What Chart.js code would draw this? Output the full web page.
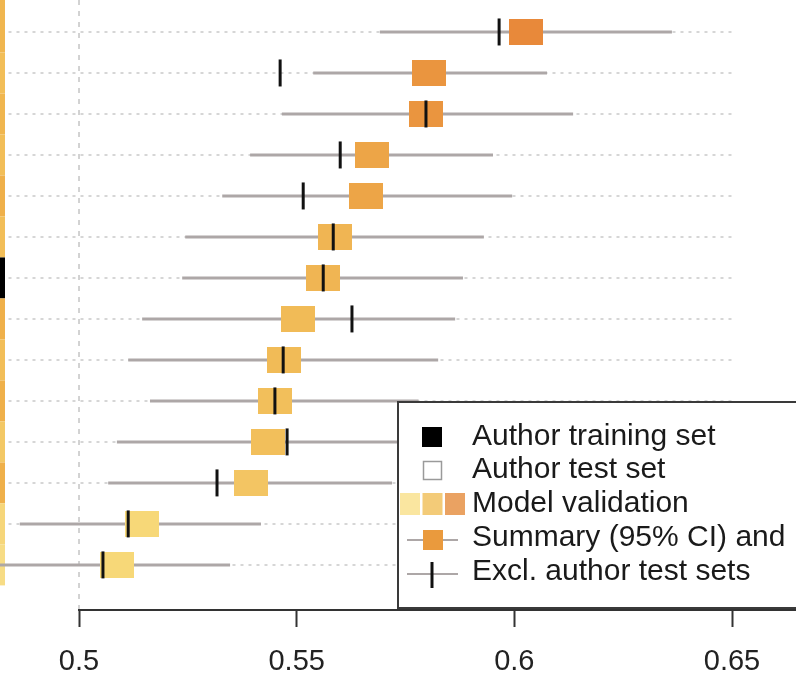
<!DOCTYPE html>
<html><head><meta charset="utf-8">
<script src="https://cdn.jsdelivr.net/npm/chart.js@4.4.0/dist/chart.umd.min.js"></script>
<style>html,body{margin:0;padding:0;background:#fff;overflow:hidden}canvas{display:block}</style>
</head><body>
<canvas id="c" width="796" height="677"></canvas>
<script>
// ---- data (top to bottom) ----
const rows = ['Row 1','Row 2','Row 3','Row 4','Row 5','Row 6','Row 7','Row 8','Row 9','Row 10','Row 11','Row 12','Row 13','Row 14'];
const ciLow  = [0.5691,0.5538,0.5466,0.5393,0.5329,0.5244,0.5237,0.5145,0.5113,0.5163,0.5087,0.5067,0.4864,0.4780];
const ciHigh = [0.6362,0.6075,0.6135,0.5951,0.5995,0.5930,0.5882,0.5864,0.5825,0.5780,0.5780,0.5719,0.5418,0.5347];
const summary = [0.6026,0.5805,0.5797,0.5672,0.5660,0.5587,0.5561,0.5504,0.5471,0.5450,0.5434,0.5394,0.5144,0.5088];
const exclAuthor = [0.5965,0.5462,0.5797,0.5600,0.5515,0.5584,0.5561,0.5627,0.5469,0.5450,0.5478,0.5317,0.5113,0.5055];
const xTickValues = [0.5,0.55,0.6,0.65];
const xTickLabels = ['0.5','0.55','0.6','0.65'];
const legendLabels = ['Author training set','Author test set','Model validation','Summary (95% CI) and','Excl. author test sets'];

// ---- styles ----
const boxColors = ['#E8893A','#EA953F','#EA953F','#EDA547','#EDA547','#F0B553','#F0B553','#F1BB57','#F1BB57','#F2BF5B','#F2BF5B','#F3C563','#F7D878','#F7D878'];
const stripColors = ['#F0B64F','#F2BE58','#F0B64F','#F2BE58','#EFB04A','#F2BE58','#000000','#EFB04A','#F2BE58','#EFB04A','#F3C865','#EFB04A','#F6D67A','#F7DC85'];
const ciColor = '#ADA7A7';
const FONT = '"Liberation Sans", Arial, Helvetica, sans-serif';

function boxImage(color){
  const c = document.createElement('canvas');
  c.width = 34; c.height = 26;
  const g = c.getContext('2d');
  g.fillStyle = color; g.fillRect(0,0,34,26);
  return c;
}

const ciDatasets = rows.map((r,i)=>({
  type:'scatter', showLine:true, order:2,
  data:[{x:ciLow[i],y:i+1},{x:ciHigh[i],y:i+1}],
  borderColor:ciColor, borderWidth:3, pointRadius:0, borderCapStyle:'butt'
}));

const boxDataset = {
  type:'scatter', order:1,
  data: rows.map((r,i)=>({x:summary[i],y:i+1})),
  pointStyle: rows.map((r,i)=>boxImage(boxColors[i])),
  pointRadius: 13
};

const tickDataset = {
  type:'scatter', order:0,
  data: rows.map((r,i)=>({x:exclAuthor[i],y:i+1})),
  pointStyle:'line', rotation:90, radius:13.5, pointRadius:13.5,
  borderColor:'#111', borderWidth:3, backgroundColor:'#111'
};

const decor = {
  id:'decor',
  beforeDatasetsDraw(chart){
    const {ctx, chartArea:a, scales:{x,y}} = chart;
    ctx.save();
    // left strip
    rows.forEach((r,i)=>{
      const t = i===0 ? a.top : y.getPixelForValue(i+0.5);
      const b = y.getPixelForValue(i+1.5);
      ctx.fillStyle = stripColors[i];
      ctx.fillRect(a.left, t, 5, b-t);
    });
    // dotted row guides
    ctx.strokeStyle = '#C9C9C9'; ctx.lineWidth = 1.5; ctx.setLineDash([3,5]);
    rows.forEach((r,i)=>{
      const py = y.getPixelForValue(i+1);
      ctx.beginPath(); ctx.moveTo(x.getPixelForValue(0.4838), py); ctx.lineTo(x.getPixelForValue(0.65), py); ctx.stroke();
    });
    // vertical dashed reference at 0.5
    ctx.setLineDash([5,6]); ctx.strokeStyle = '#C4C4C4'; ctx.lineWidth = 1.5;
    const px = x.getPixelForValue(0.5);
    ctx.beginPath(); ctx.moveTo(px, a.top); ctx.lineTo(px, a.bottom); ctx.stroke();
    ctx.restore();
  },
  afterDraw(chart){
    const {ctx, chartArea:a, scales:{x}} = chart;
    ctx.save();
    // axis line from 0.5 to right edge
    ctx.strokeStyle = '#333'; ctx.lineWidth = 2;
    ctx.beginPath(); ctx.moveTo(x.getPixelForValue(0.5)-1, a.bottom); ctx.lineTo(a.right, a.bottom); ctx.stroke();
    // legend box
    const L = {x:398, y:402, w:420, h:206};
    ctx.fillStyle = '#fff'; ctx.fillRect(L.x, L.y, L.w, L.h);
    ctx.strokeStyle = '#3a3a3a'; ctx.lineWidth = 2; ctx.strokeRect(L.x, L.y, L.w, L.h);
    const rowY = [437,470,504,538,572];
    // item 1
    ctx.fillStyle = '#000'; ctx.fillRect(422, 427, 20, 20);
    // item 2
    ctx.strokeStyle = '#9a9a9a'; ctx.lineWidth = 1.5; ctx.strokeRect(423.5, 461.5, 18, 18);
    // item 3
    ['#FAE6A0','#F3CB78','#EAA262'].forEach((c,k)=>{ ctx.fillStyle = c; ctx.fillRect(400 + k*22.5, 493, 20, 22); });
    // item 4
    ctx.strokeStyle = ciColor; ctx.lineWidth = 2;
    ctx.beginPath(); ctx.moveTo(407, 540); ctx.lineTo(458, 540); ctx.stroke();
    ctx.fillStyle = '#EA9A3D'; ctx.fillRect(423, 530, 20, 20);
    // item 5
    ctx.beginPath(); ctx.moveTo(407, 574); ctx.lineTo(458, 574); ctx.stroke();
    ctx.strokeStyle = '#111'; ctx.lineWidth = 3;
    ctx.beginPath(); ctx.moveTo(432, 562); ctx.lineTo(432, 588); ctx.stroke();
    // texts
    ctx.fillStyle = '#1a1a1a'; ctx.font = '30px ' + FONT; ctx.textBaseline = 'middle'; ctx.textAlign = 'left';
    legendLabels.forEach((t,k)=>ctx.fillText(t, 472, rowY[k]));
    ctx.restore();
  }
};

new Chart(document.getElementById('c'), {
  type:'scatter',
  data:{ datasets:[tickDataset, boxDataset, ...ciDatasets] },
  options:{
    responsive:false, animation:false, events:[],
    layout:{autoPadding:false, padding:{left:0,right:0,top:0,bottom:1}},
    plugins:{legend:{display:false}, tooltip:{enabled:false}},
    scales:{
      x:{
        type:'linear', min:0.48185, max:0.6647,
        afterBuildTicks(axis){ axis.ticks = xTickValues.map(v=>({value:v})); },
        afterFit(axis){ axis.height = 66; },
        ticks:{ callback:(v)=>xTickLabels[xTickValues.findIndex(t=>Math.abs(t-v)<1e-9)] ?? '',
                font:{family:FONT, size:29, lineHeight:1}, color:'#222', padding:20, maxRotation:0, autoSkip:false },
        grid:{ drawOnChartArea:false, drawTicks:true, tickLength:17, tickColor:'#333', tickWidth:2 },
        border:{ display:false }
      },
      y:{ type:'linear', min:0.22, max:15.1, reverse:true, display:false }
    }
  },
  plugins:[decor]
});
</script>
</body></html>
